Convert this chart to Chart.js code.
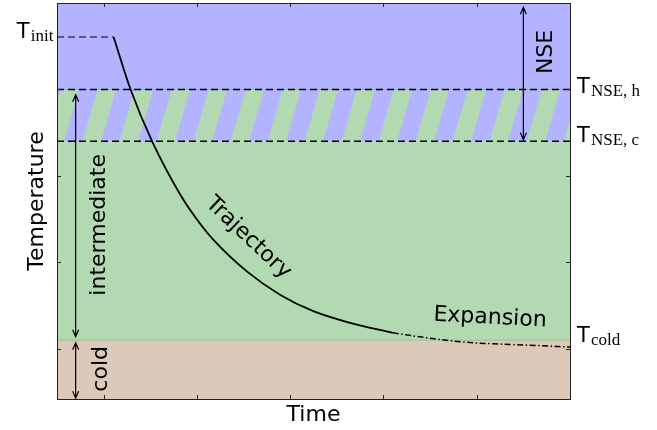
<!DOCTYPE html>
<html>
<head>
<meta charset="utf-8">
<script src="https://cdn.jsdelivr.net/npm/chart.js@4.4.1/dist/chart.umd.min.js"></script>
<style>
	body { margin: 0; background: #fff; }
	canvas { display: block; }
</style>
</head>
<body>
<canvas id="grafico" width="657" height="430"></canvas>
<script>
// Limites dos eixos (unidades arbitrarias)
var xMin = -0.5, xMax = 5;
var yMin = -0.58, yMax = 4;
var xTicks = [0, 1, 2, 3, 4];
var yTicks = [0, 1, 2, 3];

// Niveis de temperatura
var tCold = 0.1;
var tNseC = 2.4;
var tNseH = 3.0;
var tInit = 3.607;

// Trajetoria (parte solida) e expansao (traco-ponto)
var trajX = [0.107, 0.289, 0.521, 0.824, 0.985, 1.178, 1.542, 1.895, 2.248, 2.612, 3.1];
var trajY = [3.607, 3.0, 2.397, 1.78, 1.52, 1.26, 0.89, 0.624, 0.436, 0.31, 0.185];
var expX = [3.1, 3.576, 3.929, 4.283, 4.647, 5.0];
var expY = [0.185, 0.112, 0.073, 0.054, 0.038, 0.02];

// Setas duplas (x, y inicial, y final)
var setaX = [4.5, -0.3, -0.3];
var setaY0 = [3.95, 2.94, 0.07];
var setaY1 = [2.42, 0.14, -0.57];

// Textos dentro do grafico
var textos = ["NSE", "intermediate", "cold", "Trajectory", "Expansion"];
var textosX = [4.743, -0.043, -0.021, 1.552, 4.143];
var textosY = [3.434, 1.434, -0.231, 1.283, 0.358];
var textosAng = [-90, -90, -90, 43.5, 3];

// Rotulos T com subscrito
var rotulosSub = ["init", "NSE, h", "NSE, c", "cold"];
var rotulosX = [-0.931, 5.075, 5.075, 5.075];
var rotulosY = [3.595, 2.956, 2.397, 0.085];

var azul = "#b3b3ff";
var verde = "#b3d9b3";
var marrom = "#ddc9ba";
var fonteSans = "'DejaVu Sans'";
var fonteSerif = "'Liberation Serif'";

function pontos(xs, ys) {
	var out = [];
	for (var i = 0; i < xs.length; i++) {
		out.push({ x: xs[i], y: ys[i] });
	}
	return out;
}

function faixa(y) {
	return [{ x: xMin, y: y }, { x: xMax, y: y }];
}

// Listras inclinadas da faixa NSE (verde com azul)
function criarHachura() {
	var w = 37, h = 128;
	var c = document.createElement("canvas");
	c.width = w;
	c.height = h;
	var g = c.getContext("2d");
	g.fillStyle = verde;
	g.fillRect(0, 0, w, h);
	g.fillStyle = azul;
	var x0 = 31;
	for (var k = -2; k <= 2; k++) {
		var b = x0 + k * w;
		g.beginPath();
		g.moveTo(b, h);
		g.lineTo(b + w / 2, h);
		g.lineTo(b + w / 2 + w, 0);
		g.lineTo(b + w, 0);
		g.closePath();
		g.fill();
	}
	return g.createPattern(c, "repeat");
}

var linhaBase = {
	type: "line",
	pointRadius: 0,
	borderWidth: 0,
	order: 10,
};

// Desenha ticks internos, setas e textos
var extras = {
	id: "extras",
	afterDraw: function (chart) {
		var ctx = chart.ctx;
		var x = chart.scales.x;
		var y = chart.scales.y;
		var area = chart.chartArea;

		ctx.save();
		ctx.strokeStyle = "#222";
		ctx.lineWidth = 1;
		for (var i = 0; i < xTicks.length; i++) {
			var px = Math.round(x.getPixelForValue(xTicks[i])) + 0.5;
			ctx.beginPath();
			ctx.moveTo(px, area.bottom);
			ctx.lineTo(px, area.bottom - 4);
			ctx.moveTo(px, area.top);
			ctx.lineTo(px, area.top + 4);
			ctx.stroke();
		}
		for (var i = 0; i < yTicks.length; i++) {
			var py = Math.round(y.getPixelForValue(yTicks[i])) + 0.5;
			ctx.beginPath();
			ctx.moveTo(area.left, py);
			ctx.lineTo(area.left + 4, py);
			ctx.moveTo(area.right, py);
			ctx.lineTo(area.right - 4, py);
			ctx.stroke();
		}

		// setas
		ctx.strokeStyle = "#000";
		ctx.lineWidth = 1.2;
		for (var i = 0; i < setaX.length; i++) {
			var sx = x.getPixelForValue(setaX[i]);
			var sa = y.getPixelForValue(setaY0[i]);
			var sb = y.getPixelForValue(setaY1[i]);
			ctx.beginPath();
			ctx.moveTo(sx, sa);
			ctx.lineTo(sx, sb);
			ctx.moveTo(sx - 3, sa + 7);
			ctx.lineTo(sx, sa);
			ctx.lineTo(sx + 3, sa + 7);
			ctx.moveTo(sx - 3, sb - 7);
			ctx.lineTo(sx, sb);
			ctx.lineTo(sx + 3, sb - 7);
			ctx.stroke();
		}

		// textos
		ctx.fillStyle = "#000";
		ctx.font = "22px " + fonteSans;
		ctx.textAlign = "center";
		ctx.textBaseline = "middle";
		for (var i = 0; i < textos.length; i++) {
			ctx.save();
			ctx.translate(x.getPixelForValue(textosX[i]), y.getPixelForValue(textosY[i]));
			ctx.rotate((textosAng[i] * Math.PI) / 180);
			ctx.fillText(textos[i], 0, 0);
			ctx.restore();
		}

		// rotulos T
		ctx.textAlign = "left";
		ctx.textBaseline = "alphabetic";
		for (var i = 0; i < rotulosSub.length; i++) {
			var rx = x.getPixelForValue(rotulosX[i]);
			var ry = y.getPixelForValue(rotulosY[i]);
			ctx.font = "21px " + fonteSans;
			ctx.fillText("T", rx, ry);
			ctx.font = "17px " + fonteSerif;
			ctx.fillText(rotulosSub[i], rx + 14, ry + 3);
		}
		ctx.restore();
	},
};

function eixo(pos, min, max, titulo, tamanho) {
	var cfg = {
		type: "linear",
		position: pos,
		min: min,
		max: max,
		ticks: { display: false },
		grid: { display: false },
		border: { display: true, color: "#222", width: 1, z: 1 },
		afterFit: function (scale) {
			if (pos == "left" || pos == "right") {
				scale.width = tamanho;
			} else {
				scale.height = tamanho;
			}
		},
	};
	if (titulo) {
		cfg.title = {
			display: true,
			text: titulo,
			color: "#000",
			font: { family: "DejaVu Sans", size: 22 },
			padding: pos == "left" ? { top: 24, bottom: 0 } : { top: 0, bottom: 2 },
		};
	}
	return cfg;
}

var canvas = document.getElementById("grafico");
var hachura = criarHachura();

var grafico = new Chart(canvas, {
	type: "line",
	data: {
		datasets: [
			Object.assign({}, linhaBase, {
				data: faixa(tCold),
				fill: "start",
				backgroundColor: marrom,
				borderColor: "#a4ba90",
				borderWidth: 1,
			}),
			Object.assign({}, linhaBase, {
				data: faixa(tNseC),
				fill: "-1",
				backgroundColor: verde,
			}),
			Object.assign({}, linhaBase, {
				data: faixa(tNseH),
				fill: "-1",
				backgroundColor: hachura,
			}),
			Object.assign({}, linhaBase, {
				data: faixa(tNseH),
				fill: "end",
				backgroundColor: azul,
				borderColor: "#8c8cf0",
				borderWidth: 1,
			}),
			{
				data: faixa(tNseH),
				borderColor: "#000",
				borderWidth: 1.5,
				borderDash: [7, 4],
				pointRadius: 0,
				order: 1,
			},
			{
				data: faixa(tNseC),
				borderColor: "#000",
				borderWidth: 1.5,
				borderDash: [7, 4],
				pointRadius: 0,
				order: 1,
			},
			{
				data: [{ x: xMin, y: tInit }, { x: trajX[0], y: tInit }],
				borderColor: "#000",
				borderWidth: 1.2,
				borderDash: [7, 4],
				pointRadius: 0,
				order: 1,
			},
			{
				data: pontos(trajX, trajY),
				borderColor: "#000",
				borderWidth: 1.8,
				pointRadius: 0,
				cubicInterpolationMode: "monotone",
				order: 0,
			},
			{
				data: pontos(expX, expY),
				borderColor: "#000",
				borderWidth: 1.5,
				borderDash: [6, 2.5, 1.5, 2.5],
				pointRadius: 0,
				cubicInterpolationMode: "monotone",
				order: 0,
			},
		],
	},
	options: {
		responsive: false,
		animation: false,
		devicePixelRatio: 1,
		layout: { padding: 0 },
		plugins: {
			legend: { display: false },
			tooltip: { enabled: false },
		},
		scales: {
			x: eixo("bottom", xMin, xMax, "Time", 31),
			x2: eixo("top", xMin, xMax, null, 3),
			y: eixo("left", yMin, yMax, "Temperature", 57),
			y2: eixo("right", yMin, yMax, null, 87),
		},
	},
	plugins: [extras],
});
</script>
</body>
</html>
